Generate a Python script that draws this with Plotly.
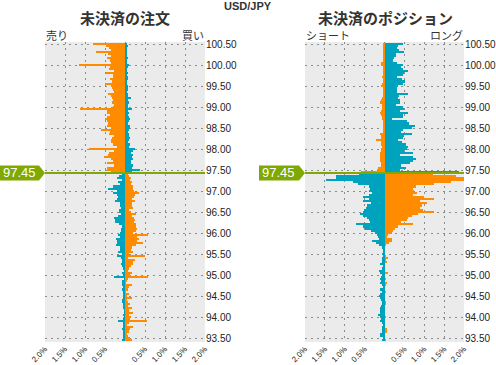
import numpy as np
import plotly.graph_objects as go

# ---------------- data ----------------
pair = "USD/JPY"
current_price = 97.45
prices_above = [round(100.525 - 0.05 * i, 3) for i in range(62)]   # bin centres, top -> down
prices_below = [round(97.425 - 0.05 * i, 3) for i in range(80)]

# Open orders (% of total)  left = sell, right = buy
orders_sell_above = [.80, .475, .40, .36, .725, .425, .34, .45, .38, .34,
                     1.15, .375, .40, .275, .475, .29, .29, .375, .33, .50,
                     .34, .33, .29, .275, .425, .36, .32, .29, .32, .275,
                     .30, 1.125, .44, .46, .375, .46, .50, .46, .425, .44,
                     .35, .60, .375, .40, .275, .325, .34, .36, .29, .21,
                     .90, .275, .39, .425, .525, .34, .29, .45, .275, .44,
                     .44, .34]
orders_buy_above = [.05, .07, .06, .05, .05, .06, .05, .08, .06, .05,
                    .10, .07, .06, .05, .07, .06, .07, .07, .06, .06,
                    .07, .08, .07, .06, .07, .08, .14, .08, .10, .07,
                    .08, .17, .08, .10, .07, .09, .12, .10, .08, .13,
                    .13, .09, .08, .10, .10, .13, .10, .08, .12, .10,
                    .25, .20, .15, .20, .18, .20, .15, .16, .20, .18,
                    .375, .17]
orders_sell_below = [.067, .15, .21, .083, .167, .12, .30, .425, .19, .30,
                     .19, .175, .21, .25, .117, .117, .108, .14, .15, .09,
                     .167, .275, .25, .25, .15, .083, .09, .09, .12, .175,
                     .133, .217, .19, .21, .233, .125, .133, .175, .083, .20,
                     .10, .083, .067, .10, .067, .05, .017, .067, .06, .283,
                     .033, .067, .075, .083, .05, .067, .05, .05, .05, .05,
                     .067, .075, .05, .04, .04, .03, .03, .04, .03, .06,
                     .17, .05, .05, .04, .07, .05, .04, .05, .06, .07]
orders_buy_below = [.083, .10, .14, .117, .183, .15, .20, .20, .225, .35,
                    .25, .225, .167, .25, .183, .167, .20, .10, .14, .267,
                    .183, .233, .25, .225, .267, .283, .30, .267, .20, .575,
                    .29, .35, .31, .45, .283, .183, .14, .20, .10, .50,
                    .083, .25, .20, .20, .14, .10, .083, .167, .12, .575,
                    .083, .058, .033, .167, .10, .083, .033, .10, .058, .167,
                    .058, .075, .12, .08, .18, .10, .20, .10, .15, .12,
                    .54, .10, .06, .20, .12, .10, .06, .08, .12, .18]

# Open positions (% of total)  left = short, right = long
pos_short_above = [.04, .03, .04, .05, .04, .03, .04, .03, .04, .10,
                   .08, .04, .03, .04, .03, .05, .06, .04, .04, .06,
                   .09, .05, .05, .04, .04, .05, .06, .08, .12, .06,
                   .06, .06, .10, .12, .08, .06, .06, .05, .03, .03,
                   .04, .05, .05, .12, .10, .08, .22, .08, .10, .06,
                   .08, .10, .12, .12, .12, .12, .12, .10, .10, .16,
                   .20, .60]
pos_long_above = [.475, .35, .31, .375, .49, .29, .29, .25, .225, .325,
                  .46, .41, .475, .60, .49, .475, .325, .43, .52, .46,
                  .35, .31, .325, .31, .60, .375, .35, .39, .40, .29,
                  .475, .49, .39, .60, .475, .46, .18, .575, .625, .77,
                  .68, .475, .425, .69, .49, .46, .35, .43, .54, .60,
                  .56, .49, .725, .39, .71, .79, .725, .64, .41, .54,
                  .39, 1.875]
pos_short_below = [.65, 1.225, 1.225, 1.46, .79, .675, .40, .36, .38, .32,
                   .40, .55, .40, .54, .34, .45, .46, .525, .54, .625,
                   .54, .45, .39, .36, .725, .54, .48, .34, .23, .19,
                   .175, .15, .32, .21, .15, .06, .04, .04, .065, .04,
                   .06, .075, .06, .11, .04, .075, .15, .125, .06, .09,
                   .125, .09, .125, .065, .04, .11, .06, .11, .14, .125,
                   .09, .065, .06, .09, .11, .125, .11, .175, .125, .09,
                   .11, .06, .04, .06, .06, .06, .11, .125, .04, .06]
pos_long_below = [1.225, 1.79, 2.0, 2.0, 1.67, 1.24, .79, .71, .75, .81,
                  .725, 1.0, 1.24, .89, 1.06, .95, .89, .975, 1.24, .85,
                  .68, .60, .56, .41, .725, .35, .27, .21, .18, .10,
                  .06, .20, .18, .125, .04, .02, .01, .025, .01, .04,
                  .10, .04, .075, .025, .025, .025, .02, .10, .025, .025,
                  .03, .025, .06, .04, .025, .025, .05, .025, .025, .025,
                  .025, .04, .03, .025, .025, .025, .025, .025, .03, .025,
                  .025, .025, .025, .025, .075, .075, .025, .025, .025, .03]

x_tickvals = [-2, -1.5, -1, -0.5, 0, 0.5, 1, 1.5, 2]
x_ticktext = ["2.0%", "1.5%", "1.0%", "0.5%", "", "0.5%", "1.0%", "1.5%", "2.0%"]
y_tickvals = [93.5 + 0.5 * i for i in range(15)]

# ---------------- styling ----------------
ORANGE = "#ff8c00"
BLUE = "#00a3bd"
GREEN = "#7fa800"
BG = "#ebebeb"
GRID = "#8c8c8c"
TXT = "#222222"
FONT = "Liberation Sans, Arial, sans-serif"
JFONT = "Noto Sans CJK JP, sans-serif"

Y0, Y1 = 93.425, 100.565
W, H = 496, 365
ML, MR, MT, MB = 45, 32, 42, 23
PW = W - ML - MR
PH = H - MT - MB

def px_x(px):
    return (px - ML) / PW

def px_y(py):
    return (H - MB - py) / PH

fig = go.Figure()

def add_bars(prices, vals, sign, color, xa, ya):
    fig.add_trace(go.Bar(
        y=prices, x=[sign * v for v in vals], orientation="h", width=0.05,
        marker=dict(color=color, line=dict(width=0)),
        xaxis=xa, yaxis=ya, hoverinfo="skip", showlegend=False))

add_bars(prices_above, orders_sell_above, -1, ORANGE, "x", "y")
add_bars(prices_above, orders_buy_above, 1, BLUE, "x", "y")
add_bars(prices_below, orders_sell_below, -1, BLUE, "x", "y")
add_bars(prices_below, orders_buy_below, 1, ORANGE, "x", "y")

add_bars(prices_above, pos_short_above, -1, ORANGE, "x2", "y2")
add_bars(prices_above, pos_long_above, 1, BLUE, "x2", "y2")
add_bars(prices_below, pos_short_below, -1, BLUE, "x2", "y2")
add_bars(prices_below, pos_long_below, 1, ORANGE, "x2", "y2")

DOT = "2px,4px"
xcommon = dict(range=[-2, 2], tickvals=x_tickvals, ticktext=x_ticktext, tickangle=-45,
               showgrid=True, gridcolor=GRID, griddash=DOT, gridwidth=1,
               zeroline=False, showline=False, ticks="", automargin=False,
               tickfont=dict(family=FONT, size=8, color=TXT), fixedrange=True)
ycommon = dict(range=[Y0, Y1], tickvals=y_tickvals, tickformat=".2f", side="right",
               showgrid=True, gridcolor=GRID, griddash=DOT, gridwidth=1,
               zeroline=False, showline=False, ticks="", automargin=False,
               tickfont=dict(family=FONT, size=10, color=TXT), fixedrange=True)

d1 = [0, px_x(205)]
d2 = [px_x(305), 1]

fig.update_layout(
    width=W, height=H,
    margin=dict(l=ML, r=MR, t=MT, b=MB, pad=0),
    paper_bgcolor="white", plot_bgcolor=BG,
    barmode="overlay", bargap=0,
    xaxis=dict(domain=d1, anchor="y", **xcommon),
    xaxis2=dict(domain=d2, anchor="y2", **xcommon),
    yaxis=dict(anchor="x", **ycommon),
    yaxis2=dict(anchor="x2", **ycommon),
)

# current price line
for xa, ya in (("x", "y"), ("x2", "y2")):
    fig.add_shape(type="line", xref=xa, yref=ya, x0=-2, x1=2, y0=current_price, y1=current_price,
                  line=dict(color=GREEN, width=2))

# price tags (arrow shaped)
py_line = MT + (Y1 - current_price) / (Y1 - Y0) * PH
half = 7.5
def tag(px0, px1, ptip):
    yt, yb, ym = px_y(py_line - half), px_y(py_line + half), px_y(py_line)
    path = (f"M {px_x(px0)} {yb} L {px_x(px1)} {yb} L {px_x(ptip)} {ym} "
            f"L {px_x(px1)} {yt} L {px_x(px0)} {yt} Z")
    fig.add_shape(type="path", xref="paper", yref="paper", path=path,
                  fillcolor=GREEN, line=dict(width=0))
    fig.add_annotation(xref="paper", yref="paper", x=px_x(px0 + 1), y=ym,
                       xanchor="left", yanchor="middle", showarrow=False,
                       text=f"{current_price:.2f}",
                       font=dict(family=FONT, size=13, color="white"))

tag(0, 39, 45)
tag(259, 299, 305)

# titles
def note(px, py, text, size, anchor="center", bold=False, family=JFONT):
    fig.add_annotation(xref="paper", yref="paper", x=px_x(px), y=px_y(py),
                       xanchor=anchor, yanchor="middle", showarrow=False,
                       text=f"<b>{text}</b>" if bold else text,
                       font=dict(family=family, size=size, color="#333333"))

note(248, 6, pair, 11, bold=True, family=FONT)
note(125, 17, "未決済の注文", 15, bold=True)
note(385, 17, "未決済のポジション", 15, bold=True)
note(44, 35, "売り", 11, anchor="left")
note(206, 35, "買い", 11, anchor="right")
note(304, 35, "ショート", 11, anchor="left")
note(465, 35, "ロング", 11, anchor="right")

fig.write_html("out.html", config={"displayModeBar": False, "staticPlot": True},
               post_script="document.body.style.margin='0';document.body.style.overflow='hidden';")
